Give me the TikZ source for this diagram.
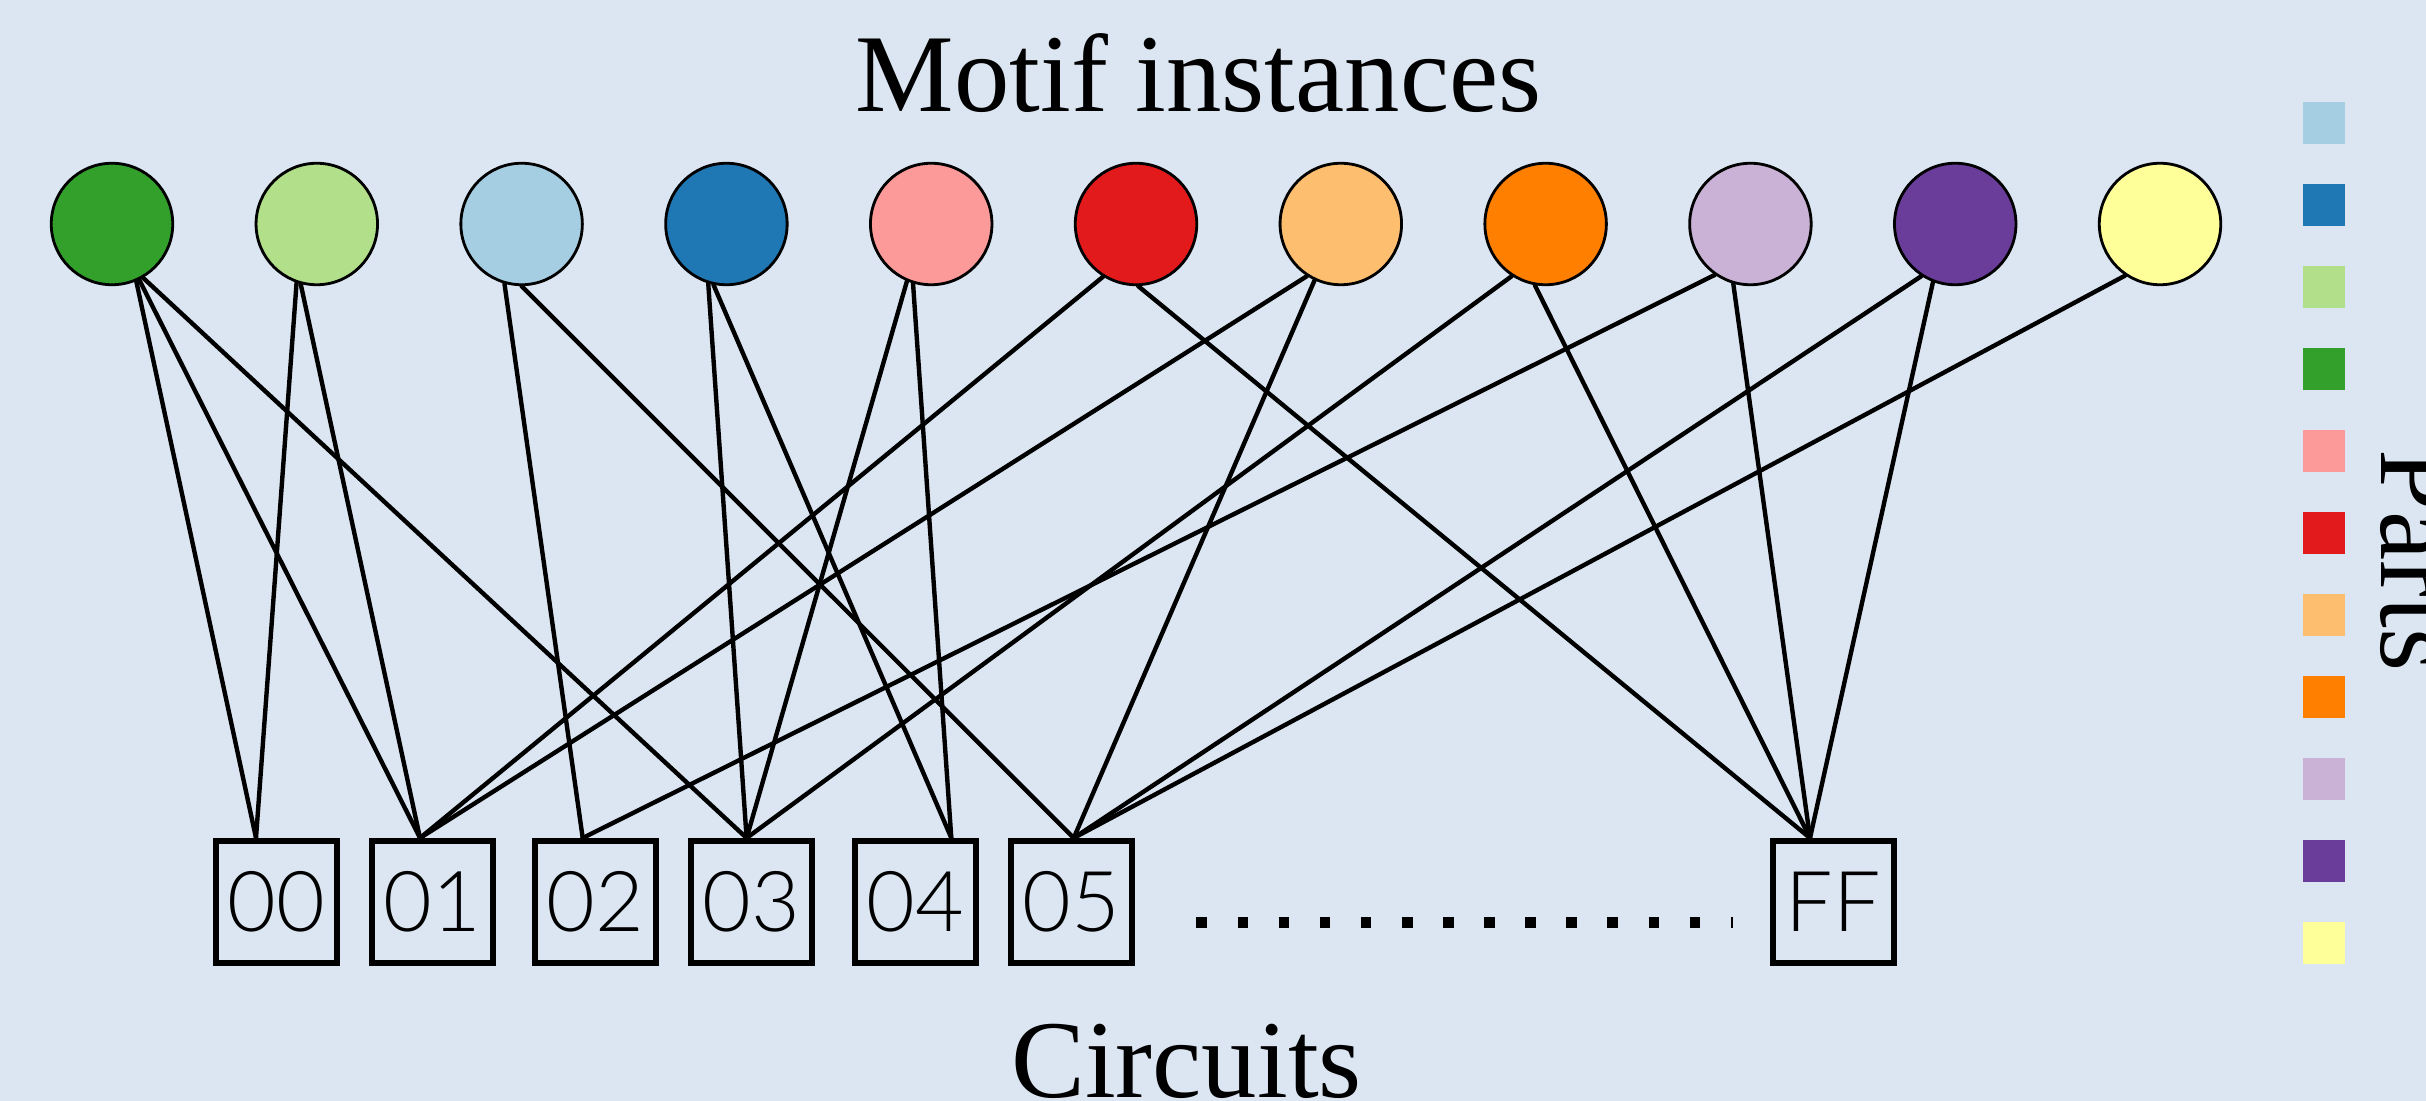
\documentclass[tikz,border=0pt]{standalone}
\usepackage{fontspec}
\setmainfont{Liberation Serif}
\newfontfamily\digitfont{Lato Light}

% Paired palette
\definecolor{bgcol}{HTML}{DCE6F2}
\definecolor{pA}{HTML}{A6CEE3}
\definecolor{pB}{HTML}{1F78B4}
\definecolor{pC}{HTML}{B2DF8A}
\definecolor{pD}{HTML}{33A02C}
\definecolor{pE}{HTML}{FB9A99}
\definecolor{pF}{HTML}{E31A1C}
\definecolor{pG}{HTML}{FDBF6F}
\definecolor{pH}{HTML}{FF7F00}
\definecolor{pI}{HTML}{CAB2D6}
\definecolor{pJ}{HTML}{6A3D9A}
\definecolor{pK}{HTML}{FFFF99}

\begin{document}
\begin{tikzpicture}[
  motif/.style={circle, draw=black, line width=0.8pt, minimum size=1.215cm, inner sep=0pt},
  circuit/.style={draw=black, line width=0.06cm, minimum width=1.21cm, minimum height=1.22cm,
                  inner sep=0pt, font=\digitfont\fontsize{23.9}{26}\selectfont},
  link/.style={line width=1.25pt, line cap=round},
  swatch/.style={minimum size=0.42cm, inner sep=0pt},
  heading/.style={font=\fontsize{31.5}{36}\selectfont, inner sep=0pt},
  dotrow/.style={line width=0.11cm, dash pattern=on 0.106cm off 0.305cm}
]
% canvas
\fill[bgcol] (0,0) rectangle (24.26,-11.01);
\useasboundingbox (0,0) rectangle (24.26,-11.01);

% headings
\node[heading, anchor=base] (title) at (11.985,-1.12) {Motif instances};
\node[heading, anchor=base] (circ) at (11.865,-10.97) {Circuits};
\node[heading, anchor=base, rotate=-90] (parts) at (23.815,-5.606) {Parts};

% motif instances
\foreach \i/\col in {1/pD,2/pC,3/pA,4/pB,5/pE,6/pF,7/pG,8/pH,9/pI,10/pJ,11/pK}
  \node[motif, fill=\col] (c\i) at ({1.12+2.048*(\i-1)},-2.24) {};

% circuits
\node[circuit] (b00) at (2.76,-9.02) {00};
\node[circuit] (b01) at (4.32,-9.02) {01};
\node[circuit] (b02) at (5.953,-9.02) {02};
\node[circuit] (b03) at (7.513,-9.02) {03};
\node[circuit] (b04) at (9.15,-9.02) {04};
\node[circuit] (b05) at (10.71,-9.02) {05};
\node[circuit] (bFF) at (18.33,-9.02) {FF};

% attachment points on the top edges of the circuits
\coordinate (t00) at (2.56,-8.38);
\coordinate (t01) at (4.20,-8.38);
\coordinate (t02) at (5.827,-8.38);
\coordinate (t03) at (7.466,-8.38);
\coordinate (t04) at (9.513,-8.38);
\coordinate (t05) at (10.737,-8.38);
\coordinate (tFF) at (18.10,-8.38);

% ellipsis between 05 and FF
\coordinate (d0) at (11.964,-9.225);
\coordinate (d1) at (17.33,-9.225);
\draw[dotrow] (d0) -- (d1);

% motif -> circuit links
\foreach \c/\a/\t in {1/-67/00, 1/-64/01, 1/-60/03,
                      2/-109.5/00, 2/-105/01,
                      3/-106.5/02, 3/-90.5/05,
                      4/-107.5/03, 4/-102/04,
                      5/-113/03, 5/-107.5/04,
                      6/-122/01, 6/-88/FF,
                      7/-123/01, 7/-115/05,
                      8/-123/03, 8/-100/FF,
                      9/-125/02, 9/-106/FF,
                      10/-123/05, 10/-111.5/FF,
                      11/-124.5/05}
  \draw[link] (c\c.\a) -- (t\t);

% parts legend
\foreach \i/\col in {1/pA,2/pB,3/pC,4/pD,5/pE,6/pF,7/pG,8/pH,9/pI,10/pJ,11/pK}
  \node[swatch, fill=\col] (s\i) at (23.24,{-1.23-0.8195*(\i-1)}) {};
\end{tikzpicture}
\end{document}
